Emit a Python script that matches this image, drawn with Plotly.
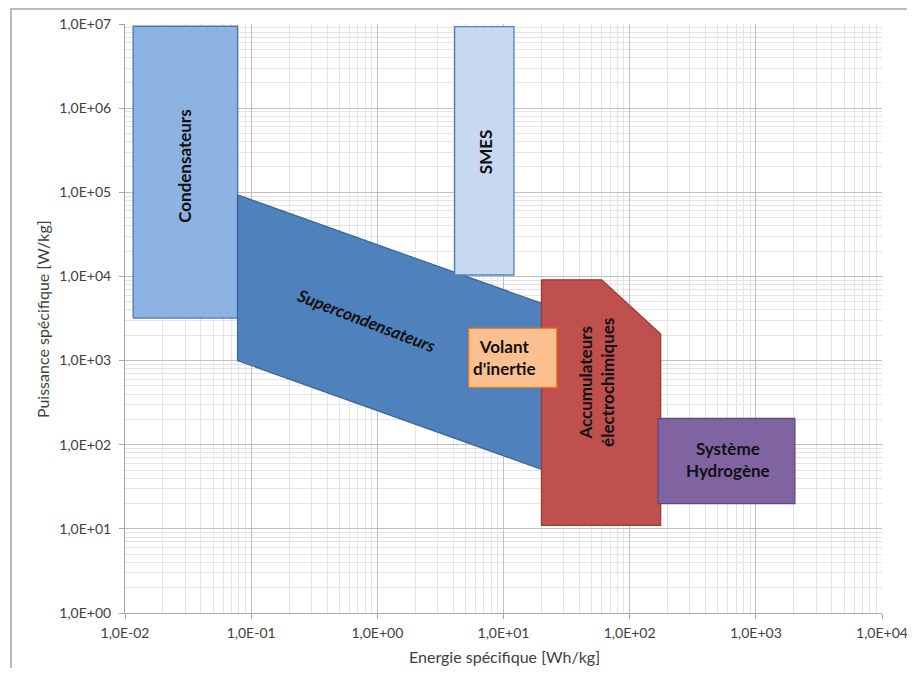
import plotly.graph_objects as go

# ---- data (Wh/kg, W/kg) ----
cond_energy = [0.0116, 0.078]
cond_power = [3.2e3, 9.4e6]

smes_energy = [4.1, 12.1]
smes_power = [1.04e4, 9.3e6]

super_energy = [0.078, 20, 20, 0.078]
super_power = [9.3e4, 4.8e3, 51, 1.0e3]

volant_energy = [5.3, 26.4]
volant_power = [481, 2413]

accu_energy = [20, 60, 176, 176, 20]
accu_power = [9.1e3, 9.1e3, 2.07e3, 11, 11]

hydro_energy = [168, 2040]
hydro_power = [20, 205]

x_tickvals = [1e-2, 1e-1, 1e0, 1e1, 1e2, 1e3, 1e4]
x_ticktext = ["1,0E-02", "1,0E-01", "1,0E+00", "1,0E+01", "1,0E+02", "1,0E+03", "1,0E+04"]
y_tickvals = [1e0, 1e1, 1e2, 1e3, 1e4, 1e5, 1e6, 1e7]
y_ticktext = ["1,0E+00", "1,0E+01", "1,0E+02", "1,0E+03", "1,0E+04", "1,0E+05", "1,0E+06", "1,0E+07"]


def rect(xs, ys):
    x0, x1 = xs
    y0, y1 = ys
    return [x0, x1, x1, x0, x0], [y0, y0, y1, y1, y0]


def closed(xs, ys):
    return list(xs) + [xs[0]], list(ys) + [ys[0]]


fig = go.Figure()


def add_poly(xs, ys, fill, line):
    fig.add_trace(go.Scatter(x=xs, y=ys, mode="lines", fill="toself",
                             fillcolor=fill, line=dict(color=line, width=1.3),
                             hoverinfo="skip", showlegend=False))


add_poly(*rect(cond_energy, cond_power), "#8DB3E2", "#4F77A8")
add_poly(*closed(super_energy, super_power), "#4F81BD", "#3D679A")
add_poly(*rect(smes_energy, smes_power), "#C6D9F1", "#4F81BD")
add_poly(*closed(accu_energy, accu_power), "#C0504D", "#9B3B39")
add_poly(*rect(volant_energy, volant_power), "#FAC090", "#F07D22")
add_poly(*rect(hydro_energy, hydro_power), "#8064A2", "#604A7B")

FONT = "Lato, 'Open Sans', sans-serif"
lab_font = dict(family=FONT, size=17, color="#111111")
labels = [
    ("<b>Condensateurs</b>", -1.525, 5.314, -90),
    ("<b>SMES</b>", 0.858, 5.484, -90),
    ("<b><i>Supercondensateurs</i></b>", -0.086, 3.482, 21),
    ("<b>Volant<br>d'inertie</b>", 1.011, 3.04, 0),
    ("<b>Accumulateurs<br>électrochimiques</b>", 1.732, 2.745, -90),
    ("<b>Système<br>Hydrogène</b>", 2.78, 1.82, 0),
]
for txt, lx, ly, ang in labels:
    fig.add_annotation(x=lx, y=ly, xref="x", yref="y", text=txt, showarrow=False,
                       textangle=ang, font=lab_font, align="center")

axis_font = dict(family=FONT, size=14, color="#404040")
fig.add_annotation(x=0.5007, y=-0.0747, xref="paper", yref="paper", yanchor="middle",
                   text="Energie spécifique [Wh/kg]", showarrow=False,
                   font=dict(family=FONT, size=16, color="#404040"))
fig.add_annotation(x=-0.1096, y=0.499, xref="paper", yref="paper", xanchor="center",
                   yanchor="middle", text="Puissance spécifique [W/kg]", showarrow=False,
                   textangle=-90, font=dict(family=FONT, size=16, color="#404040"))

# outer frame
fig.add_shape(type="rect", xref="paper", yref="paper", x0=-0.1506, x1=1.3, y0=-0.3, y1=1.0255,
              line=dict(color="#A6A6A6", width=1.5), fillcolor="rgba(0,0,0,0)", layer="below")

common = dict(type="log", showgrid=True, gridcolor="#BFBFBF", gridwidth=1,
              showline=True, linecolor="#A6A6A6", linewidth=1,
              ticks="outside", ticklen=5, tickcolor="#A6A6A6",
              tickfont=axis_font, zeroline=False, mirror=False,
              automargin=False, ticklabeloverflow="allow",
              minor=dict(dtick="D1", showgrid=True, gridcolor="#E3E3E3", gridwidth=1, ticks=""))

fig.update_xaxes(range=[-2, 4], tickvals=x_tickvals, ticktext=x_ticktext,
                 ticklabelstandoff=2, **common)
fig.update_yaxes(range=[0, 7], tickvals=y_tickvals, ticktext=y_ticktext,
                 ticklabelstandoff=5, **common)

# page body has an 8px margin, so the figure sits at (8, 8); keep it inside the window
fig.update_layout(width=899, height=660, margin=dict(l=117, r=25, t=16, b=55),
                  plot_bgcolor="white", paper_bgcolor="white", showlegend=False)

fig.write_html("out.html")
